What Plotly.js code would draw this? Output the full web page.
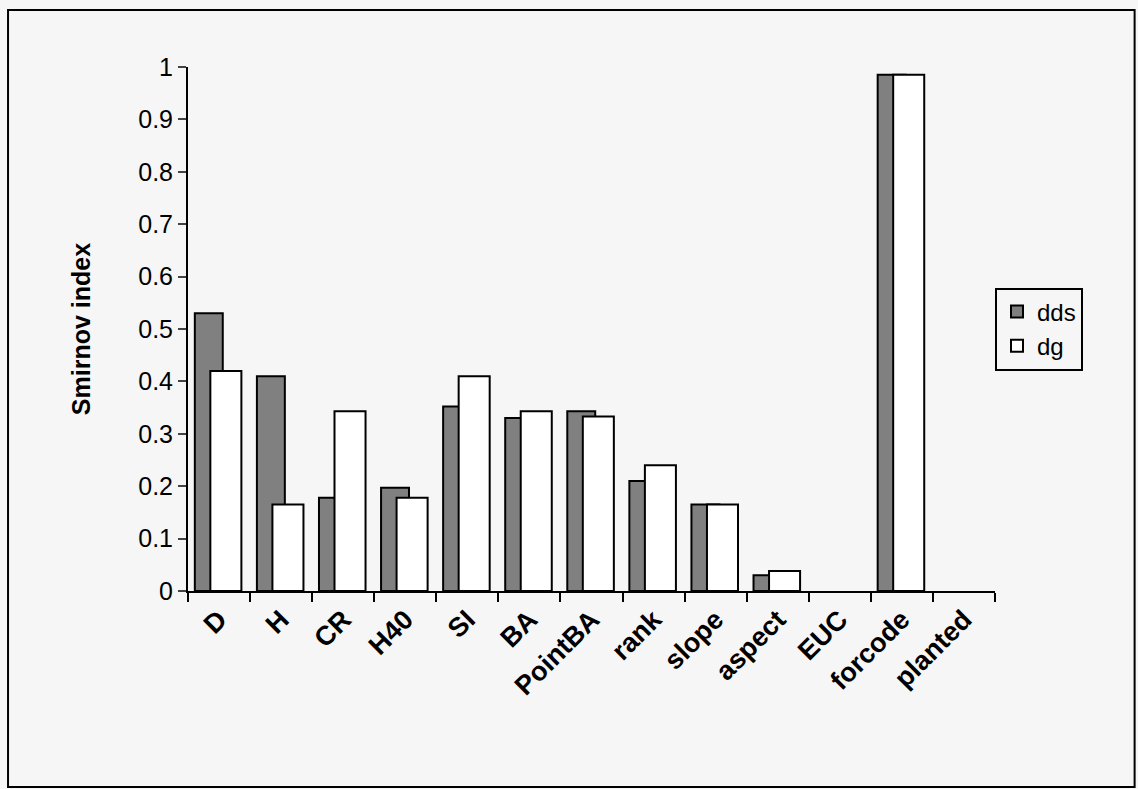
<!DOCTYPE html>
<html>
<head>
<script src="https://cdn.plot.ly/plotly-3.0.1.min.js"></script>
<style>body{margin:0;background:#fff}#chart{width:1138px;height:789px}</style>
</head>
<body>
<div id="chart"></div>
<script>
const categories = ['D','H','CR','H40','SI','BA','PointBA','rank','slope','aspect','EUC','forcode','planted'];
const dds = [0.53,0.41,0.178,0.197,0.352,0.33,0.343,0.21,0.165,0.03,null,0.985,null];
const dg = [0.42,0.165,0.343,0.178,0.41,0.343,0.333,0.24,0.165,0.038,null,0.985,null];
const yTicks = [0,0.1,0.2,0.3,0.4,0.5,0.6,0.7,0.8,0.9,1];

var data = [
	{ type:'bar', name:'dds', x:categories, y:dds, offset:-0.39, width:0.45,
	  marker:{color:'#808080', line:{color:'#000', width:2}} },
	{ type:'bar', name:'dg', x:categories, y:dg, offset:-0.14, width:0.5,
	  marker:{color:'#fff', line:{color:'#000', width:2}} }
];

var layout = {
	width:1138, height:789,
	paper_bgcolor:'#f6f6f6', plot_bgcolor:'#f6f6f6',
	barmode:'overlay',
	margin:{l:188, r:143, t:67, b:198},
	font:{family:'Arial, Liberation Sans, sans-serif', color:'#000'},
	xaxis:{ showline:true, linecolor:'#000', linewidth:2, ticks:'outside', tickson:'boundaries',
	        ticklen:9, tickwidth:2, tickcolor:'#000', tickangle:-45,
	        tickvals:categories, ticktext:categories.map(c => '<b>' + c + '</b>'),
	        tickfont:{size:27}, range:[-0.5,12.5] },
	yaxis:{ range:[0,1], tickvals:yTicks, ticktext:yTicks.map(String), showgrid:false, zeroline:false,
	        showline:true, linecolor:'#000', linewidth:2, ticks:'outside', ticklen:8, tickwidth:2,
	        tickfont:{size:25}, title:{text:'<b>Smirnov index</b>', font:{size:25}, standoff:40} },
	legend:{ x:1.0, xanchor:'left', y:0.5, yanchor:'middle', bgcolor:'#f6f6f6', bordercolor:'#000', borderwidth:2,
	         font:{size:24}, traceorder:'normal' },
	shapes:[{type:'rect', xref:'paper', yref:'paper', x0:-0.223, x1:1.173, y0:-0.374, y1:1.109,
	         line:{color:'#000', width:2}}]
};
Plotly.newPlot('chart', data, layout, {displayModeBar:false});
</script>
</body>
</html>
